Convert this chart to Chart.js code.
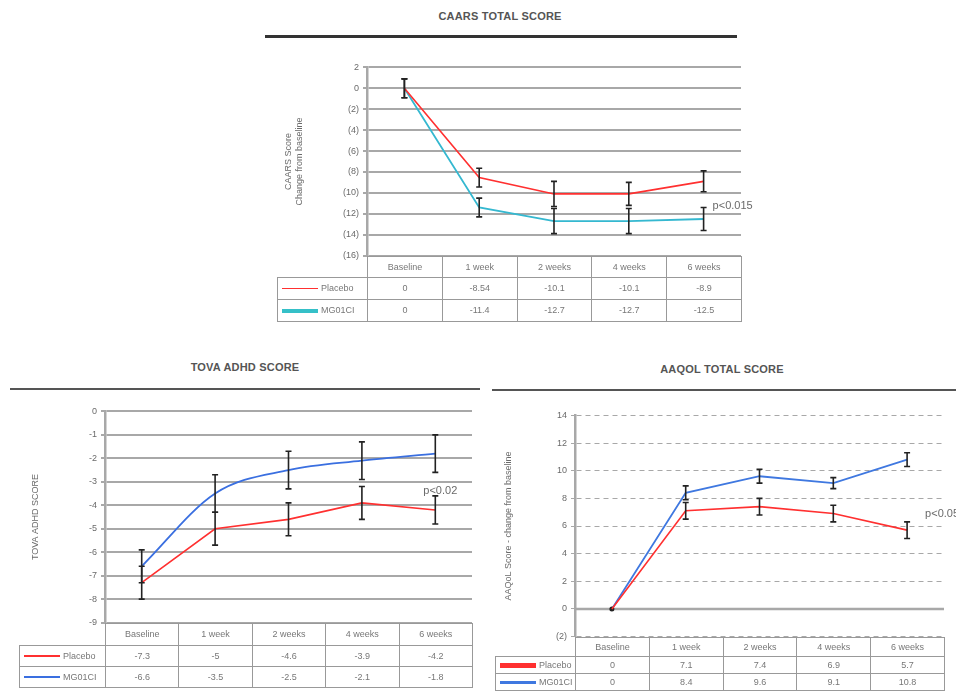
<!DOCTYPE html>
<html>
<head>
<meta charset="utf-8">
<script src="https://cdn.jsdelivr.net/npm/chart.js@4.4.0/dist/chart.umd.min.js"></script>
<style>
body { margin: 0; background: #fff; font-family: "Liberation Sans", Arial, sans-serif; }
.box { position: absolute; }
.ttl { position: absolute; font-size: 11px; font-weight: bold; color: #555; text-align: center; letter-spacing: 0.2px; }
.rule { position: absolute; background: #333; }
table { position: absolute; border-collapse: collapse; table-layout: fixed; font-size: 9px; color: #777; }
td { border: 1px solid #999; text-align: center; padding: 0; overflow: hidden; white-space: nowrap; }
td.blank { border: none; }
.sw { display: inline-block; width: 36px; vertical-align: middle; margin-right: 3px; }
</style>
</head>
<body>

<div class="ttl" style="left:265px;top:10px;width:470px;">CAARS TOTAL SCORE</div>
<div class="rule" style="left:265px;top:35px;width:472px;height:3px;"></div>
<div class="box" id="b1" style="left:275px;top:58px;"><canvas id="caars" width="496" height="207"></canvas></div>

<div class="ttl" style="left:10px;top:361px;width:470px;">TOVA ADHD SCORE</div>
<div class="rule" style="left:10px;top:388px;width:470px;height:2px;background:#555;"></div>
<div class="box" id="b2" style="left:10px;top:402px;"><canvas id="tova" width="462" height="230"></canvas></div>

<div class="ttl" style="left:492px;top:363px;width:460px;">AAQOL TOTAL SCORE</div>
<div class="rule" style="left:492px;top:389px;width:464px;height:2px;background:#555;"></div>
<div class="box" id="b3" style="left:490px;top:406px;"><canvas id="aaqol" width="466" height="240"></canvas></div>

<script>
const weeks = ['Baseline', '1 week', '2 weeks', '4 weeks', '6 weeks'];
const groups = ['Placebo', 'MG01CI'];

// CAARS total score, change from baseline
const caarsPlacebo = [0, -8.54, -10.1, -10.1, -8.9];
const caarsDrug = [0, -11.4, -12.7, -12.7, -12.5];
const caarsPlaceboErr = [0.9, 0.9, 1.2, 1.1, 1.0];
const caarsDrugErr = [0.9, 0.9, 1.2, 1.2, 1.1];
const caarsRange = [-16, 2, 2];

// TOVA ADHD score
const tovaPlacebo = [-7.3, -5, -4.6, -3.9, -4.2];
const tovaDrug = [-6.6, -3.5, -2.5, -2.1, -1.8];
const tovaPlaceboErr = [0.7, 0.7, 0.7, 0.7, 0.6];
const tovaDrugErr = [0.7, 0.8, 0.8, 0.8, 0.8];
const tovaRange = [-9, 0, 1];

// AAQoL total score, change from baseline
const aaqolPlacebo = [0, 7.1, 7.4, 6.9, 5.7];
const aaqolDrug = [0, 8.4, 9.6, 9.1, 10.8];
const aaqolPlaceboErr = [0, 0.6, 0.6, 0.6, 0.6];
const aaqolDrugErr = [0, 0.5, 0.5, 0.4, 0.5];
const aaqolRange = [-2, 14, 2];

const grey = '#a8a8a8';
const txt = '#6a6a6a';
const paren = v => v < 0 ? '(' + (-v) + ')' : v;

const extras = {
  id: 'extras',
  beforeDatasetsDraw(chart, args, opts) {
    if (!opts.zeroLine) return;
    const ctx = chart.ctx, a = chart.chartArea, y = chart.scales.y.getPixelForValue(0);
    ctx.save();
    ctx.strokeStyle = grey; ctx.lineWidth = 2.5;
    ctx.beginPath(); ctx.moveTo(a.left, y); ctx.lineTo(a.right, y); ctx.stroke();
    ctx.restore();
  },
  afterDatasetsDraw(chart, args, opts) {
    const ctx = chart.ctx, ys = chart.scales.y;
    ctx.save();
    ctx.strokeStyle = '#222'; ctx.lineWidth = 1.6;
    chart.data.datasets.forEach((ds, i) => {
      if (!ds.errors) return;
      chart.getDatasetMeta(i).data.forEach((pt, j) => {
        const e = ds.errors[j];
        if (!e) return;
        const t = ys.getPixelForValue(ds.data[j] + e), b = ys.getPixelForValue(ds.data[j] - e);
        ctx.beginPath();
        ctx.moveTo(pt.x, t); ctx.lineTo(pt.x, b);
        ctx.moveTo(pt.x - 3, t); ctx.lineTo(pt.x + 3, t);
        ctx.moveTo(pt.x - 3, b); ctx.lineTo(pt.x + 3, b);
        ctx.stroke();
      });
    });
    if (opts.pText) {
      const x = chart.scales.x.getPixelForValue(opts.pIndex) + opts.pDx;
      ctx.fillStyle = txt; ctx.font = '11px "Liberation Sans", Arial';
      ctx.textBaseline = 'middle';
      ctx.fillText(opts.pText, x, ys.getPixelForValue(opts.pValue));
    }
    ctx.restore();
  }
};

function lineChart(id, cfg) {
  return new Chart(id, {
    type: 'line',
    data: {
      labels: weeks,
      datasets: [
        { label: groups[0], data: cfg.placebo, errors: cfg.placeboErr, borderColor: '#ff3030',
          borderWidth: 1.6, pointRadius: 0 },
        { label: groups[1], data: cfg.drug, errors: cfg.drugErr, borderColor: cfg.drugColor,
          borderWidth: 1.8, cubicInterpolationMode: cfg.smooth ? 'monotone' : 'default',
          pointRadius: cfg.baseDot ? [2.5, 0, 0, 0, 0] : 0,
          pointBackgroundColor: '#222', pointBorderWidth: 0 }
      ]
    },
    options: {
      responsive: false,
      animation: false,
      layout: { padding: { top: cfg.padTop, right: cfg.padRight, bottom: 6, left: 0 } },
      plugins: {
        legend: { display: false },
        tooltip: { enabled: false },
        extras: { pText: cfg.pText, pIndex: 4, pValue: cfg.pValue, pDx: cfg.pDx, zeroLine: cfg.zeroLine }
      },
      scales: {
        x: {
          offset: true,
          ticks: { display: false },
          grid: { display: false },
          border: { display: false },
          afterFit: s => { s.height = 0; }
        },
        y: {
          min: cfg.range[0], max: cfg.range[1],
          ticks: { stepSize: cfg.range[2], color: txt, font: { size: 9 }, padding: 4,
                   callback: cfg.parens ? paren : (v => v) },
          grid: { color: grey, lineWidth: cfg.gridWidth, tickLength: 4 },
          border: { display: true, color: grey, width: 2.5, dash: cfg.dash || [] },
          title: { display: true, text: cfg.yTitle, color: txt, font: { size: 9 },
                   padding: { top: cfg.titlePad, bottom: 0 } },
          afterFit: s => { s.width = cfg.axisWidth; }
        }
      }
    },
    plugins: [extras]
  });
}

function addTable(chart, boxId, cfg) {
  const box = document.getElementById(boxId);
  const a = chart.chartArea;
  const colW = (a.right - a.left) / weeks.length;
  const t = document.createElement('table');
  t.style.left = (box.offsetLeft + a.left - cfg.legendW) + 'px';
  t.style.top = (box.offsetTop + a.bottom) + 'px';
  t.style.width = (a.right - a.left + cfg.legendW) + 'px';
  let html = '<colgroup><col style="width:' + cfg.legendW + 'px">';
  weeks.forEach(() => { html += '<col style="width:' + colW + 'px">'; });
  html += '</colgroup><tr style="height:' + cfg.rowH[0] + 'px"><td class="blank"></td>';
  weeks.forEach(w => { html += '<td>' + w + '</td>'; });
  html += '</tr>';
  [cfg.placebo, cfg.drug].forEach((vals, i) => {
    html += '<tr style="height:' + cfg.rowH[i + 1] + 'px"><td style="text-align:left;padding-left:4px">' +
      '<span class="sw" style="height:' + cfg.swatch[i] + 'px;background:' + cfg.swatchColor[i] + '"></span>' +
      groups[i] + '</td>';
    vals.forEach(v => { html += '<td>' + v + '</td>'; });
    html += '</tr>';
  });
  t.innerHTML = html;
  document.body.appendChild(t);
}

const caarsCfg = {
  placebo: caarsPlacebo, drug: caarsDrug, placeboErr: caarsPlaceboErr, drugErr: caarsDrugErr,
  drugColor: '#35b8d0', range: caarsRange, parens: true, gridWidth: 2, padTop: 8, padRight: 30,
  yTitle: ['CAARS Score', 'Change from baseline'], axisWidth: 92, titlePad: 8,
  pText: 'p<0.015', pValue: -11.3, pDx: 9
};
const tovaCfg = {
  placebo: tovaPlacebo, drug: tovaDrug, placeboErr: tovaPlaceboErr, drugErr: tovaDrugErr,
  drugColor: '#3a6fe0', range: tovaRange, parens: false, gridWidth: 2, padTop: 8, padRight: 0,
  smooth: true, yTitle: 'TOVA ADHD SCORE', axisWidth: 95, titlePad: 20,
  pText: 'p<0.02', pValue: -3.4, pDx: -12
};
const aaqolCfg = {
  placebo: aaqolPlacebo, drug: aaqolDrug, placeboErr: aaqolPlaceboErr, drugErr: aaqolDrugErr,
  drugColor: '#3f78e0', range: aaqolRange, parens: true, gridWidth: 1, padTop: 8, padRight: 12,
  dash: [5, 4], yTitle: 'AAQoL Score - change from baseline', axisWidth: 85, titlePad: 13,
  zeroLine: true, baseDot: true,
  pText: 'p<0.05', pValue: 6.9, pDx: 18
};

const c1 = lineChart('caars', caarsCfg);
const c2 = lineChart('tova', tovaCfg);
const c3 = lineChart('aaqol', aaqolCfg);

addTable(c1, 'b1', { placebo: caarsPlacebo, drug: caarsDrug, legendW: 90, rowH: [21, 22, 22],
  swatch: [1.5, 4], swatchColor: ['#ff3030', '#35c0c8'] });
addTable(c2, 'b2', { placebo: tovaPlacebo, drug: tovaDrug, legendW: 86, rowH: [22, 21, 21],
  swatch: [2, 2], swatchColor: ['#ff3030', '#3a6fe0'] });
addTable(c3, 'b3', { placebo: aaqolPlacebo, drug: aaqolDrug, legendW: 80, rowH: [19, 17, 17],
  swatch: [5, 3], swatchColor: ['#ff3030', '#3f78e0'] });
</script>
</body>
</html>
